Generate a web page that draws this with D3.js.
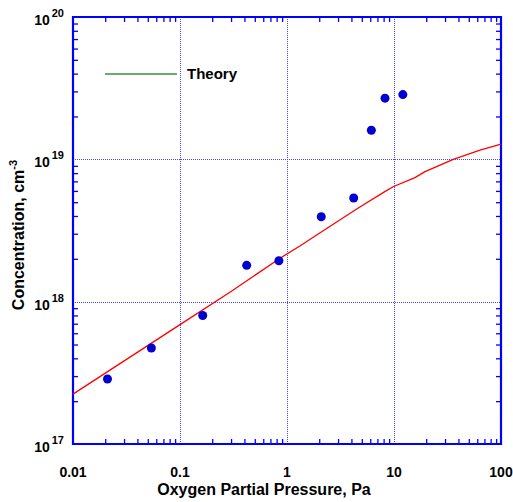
<!DOCTYPE html>
<html>
<head>
<meta charset="utf-8">
<script src="https://cdn.jsdelivr.net/npm/d3@7"></script>
<style>
  body { margin: 0; background: #fff; }
  text { font-family: "Liberation Sans", Arial, sans-serif; font-weight: bold; fill: #000; }
</style>
</head>
<body>
<script>
// measured data
const pressure = [0.021, 0.054, 0.163, 0.42, 0.84, 2.09, 4.2, 6.14, 8.24, 12.1];
const concentration = [2.86e17, 4.73e17, 8.0e17, 1.80e18, 1.94e18, 3.95e18, 5.35e18, 1.60e19, 2.69e19, 2.85e19];

// theory curve
const theoryP = [0.01, 0.1, 0.3, 0.86, 1.32, 1.7, 4.48, 8.2, 9.8, 15.7, 19.5, 35.8, 63.7, 100];
const theoryC = [2.24e17, 6.9e17, 1.18e18, 2.02e18, 2.46e18, 2.79e18, 4.48e18, 5.93e18, 6.42e18, 7.44e18, 8.2e18, 1.0e19, 1.16e19, 1.28e19];

const xDecades = [0.01, 0.1, 1, 10, 100];
const xTickLabels = ["0.01", "0.1", "1", "10", "100"];
const yDecades = [1e17, 1e18, 1e19, 1e20];
const yExponents = ["17", "18", "19", "20"];

const AXIS_COLOR = "rgb(0, 0, 255)";
const GRID_COLOR = "rgb(70, 70, 255)";

var W = 513, H = 502;
var margin = {top: 17, right: 12, bottom: 58, left: 73};
var width = W - margin.left - margin.right,
    height = H - margin.top - margin.bottom;

var svg = d3.select("body").append("svg")
    .attr("width", W)
    .attr("height", H);

var g = svg.append("g")
    .attr("transform", "translate(" + margin.left + "," + margin.top + ")");

var xScale = d3.scaleLog().domain([0.01, 100]).range([0, width]);
var yScale = d3.scaleLog().domain([1e17, 1e20]).range([height, 0]);

// minor tick values
var xMinor = [], yMinor = [];
for (var i = 0; i < xDecades.length - 1; i++) {
    for (var k = 2; k <= 9; k++) xMinor.push(xDecades[i] * k);
}
for (var i = 0; i < yDecades.length - 1; i++) {
    for (var k = 2; k <= 9; k++) yMinor.push(yDecades[i] * k);
}

// grid lines (dotted)
g.selectAll(".xgrid")
    .data(xDecades.slice(1, -1))
    .enter().append("line")
    .attr("x1", d => Math.round(xScale(d)) + 0.5).attr("x2", d => Math.round(xScale(d)) + 0.5)
    .attr("y1", 0).attr("y2", height)
    .style("stroke", GRID_COLOR).style("stroke-width", 1)
    .style("stroke-dasharray", "1,1");

g.selectAll(".ygrid")
    .data(yDecades.slice(1, -1))
    .enter().append("line")
    .attr("y1", d => Math.round(yScale(d)) + 0.5).attr("y2", d => Math.round(yScale(d)) + 0.5)
    .attr("x1", 0).attr("x2", width)
    .style("stroke", GRID_COLOR).style("stroke-width", 1)
    .style("stroke-dasharray", "1,1");

// axes with inward ticks on all four sides
var bottomAxis = d3.axisBottom(xScale).tickValues(xMinor).tickSize(-5).tickFormat("");
var topAxis = d3.axisTop(xScale).tickValues(xMinor).tickSize(-5).tickFormat("");
var leftAxis = d3.axisLeft(yScale).tickValues(yMinor).tickSize(-5).tickFormat("");
var rightAxis = d3.axisRight(yScale).tickValues(yMinor).tickSize(-5).tickFormat("");

function styleAxis(sel) {
    sel.select(".domain").remove();
    sel.selectAll("line").style("stroke", AXIS_COLOR).style("stroke-width", 1.3);
}

g.append("g").attr("transform", "translate(0," + height + ")").call(bottomAxis).call(styleAxis);
g.append("g").call(topAxis).call(styleAxis);
g.append("g").call(leftAxis).call(styleAxis);
g.append("g").attr("transform", "translate(" + width + ",0)").call(rightAxis).call(styleAxis);

// frame
g.append("path")
    .attr("d", "M0,0H" + width + "V" + height + "H0Z")
    .style("fill", "none")
    .style("stroke", AXIS_COLOR)
    .style("stroke-width", 2.2);

// x tick labels
g.selectAll(".xlabel")
    .data(xDecades)
    .enter().append("text")
    .attr("x", d => xScale(d))
    .attr("y", height + 33)
    .attr("text-anchor", "middle")
    .attr("font-size", "14px")
    .text((d, i) => xTickLabels[i]);

// y tick labels 10^n
var yl = g.selectAll(".ylabel")
    .data(yDecades)
    .enter().append("text")
    .attr("x", -9)
    .attr("y", d => yScale(d) + 8)
    .attr("text-anchor", "end")
    .attr("font-size", "14px");
yl.append("tspan").text("10");
yl.append("tspan")
    .attr("font-size", "11px")
    .attr("dx", 2)
    .attr("dy", -8)
    .text((d, i) => yExponents[i]);

// theory line
var line = d3.line()
    .x((d, i) => xScale(theoryP[i]))
    .y((d, i) => yScale(theoryC[i]));

g.append("path")
    .datum(theoryC)
    .attr("d", line)
    .attr("fill", "none")
    .attr("stroke", "#ff0000")
    .attr("stroke-width", 1.3);

// measured points
g.selectAll(".pt")
    .data(concentration)
    .enter().append("circle")
    .attr("cx", (d, i) => xScale(pressure[i]))
    .attr("cy", d => yScale(d))
    .attr("r", 4.5)
    .attr("fill", "#0000d0");

// legend
g.append("line")
    .attr("x1", 32).attr("x2", 104)
    .attr("y1", 57).attr("y2", 57)
    .attr("stroke", "#3c8c46")
    .attr("stroke-width", 1.5);

g.append("text")
    .attr("x", 114)
    .attr("y", 62)
    .attr("font-size", "15px")
    .text("Theory");

// axis titles
svg.append("text")
    .attr("x", 264)
    .attr("y", 495)
    .attr("text-anchor", "middle")
    .attr("font-size", "16px")
    .text("Oxygen Partial Pressure, Pa");

var yt = svg.append("text")
    .attr("text-anchor", "middle")
    .attr("transform", "translate(24,235)rotate(-90)")
    .attr("font-size", "16px");
yt.append("tspan").text("Concentration, cm");
yt.append("tspan")
    .attr("font-size", "11px")
    .attr("dy", -7)
    .text("-3");
</script>
</body>
</html>
